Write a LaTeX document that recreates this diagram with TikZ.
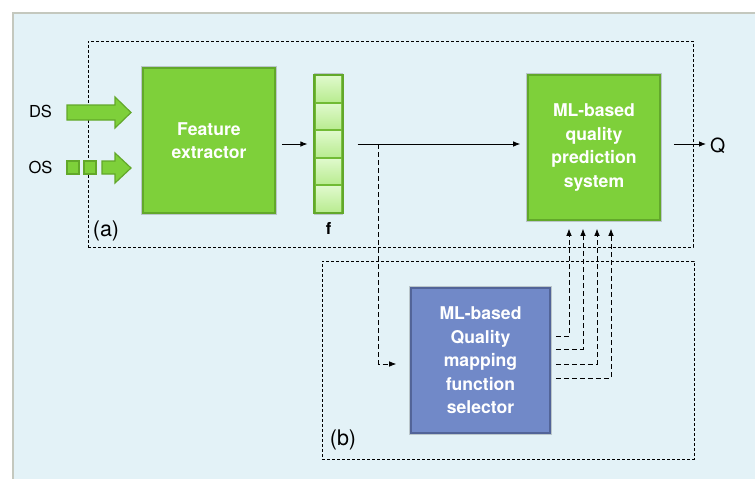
\documentclass[tikz,border=0pt]{standalone}
\usepackage{fontspec}
\setmainfont{TeX Gyre Heros}
\usetikzlibrary{arrows.meta,shadows,positioning}
\definecolor{qpanel}{RGB}{227,242,247}
\definecolor{qpanelrim}{RGB}{196,200,190}
\definecolor{qgreen}{RGB}{126,208,58}
\definecolor{qgreendark}{RGB}{98,168,42}
\definecolor{qcelltop}{RGB}{222,249,202}
\definecolor{qcellbot}{RGB}{186,236,146}
\definecolor{qblue}{RGB}{113,137,200}
\definecolor{qbluedark}{RGB}{82,100,152}
\tikzstyle{glow} = [drop shadow={shadow xshift=0pt, shadow yshift=0pt, shadow scale=1.025, opacity=0.18, fill=black}]
\tikzstyle{block} = [rectangle, minimum width=132pt, minimum height=145pt, inner sep=0pt, align=center, text=white, font=\bfseries\fontsize{17.6}{23.5}\selectfont, draw=qgreendark, fill=qgreen, line width=1.6pt, glow]
\tikzstyle{selector} = [block, minimum width=139pt, draw=qbluedark, fill=qblue]
\tikzstyle{vecbox} = [rectangle, minimum width=29pt, minimum height=138pt, inner sep=0pt, draw=qgreendark, fill=qgreen!90!black, line width=1.2pt, glow]
\tikzstyle{cell} = [rectangle, minimum width=25pt, minimum height=24.5pt, inner sep=0pt, top color=qcelltop, bottom color=qcellbot]
\tikzstyle{fat} = [draw=qgreendark, fill=qgreen, line width=1.2pt, line join=miter]
\tikzstyle{group} = [rectangle, draw=black, line width=0.7pt, dash pattern=on 3pt off 2pt]
\tikzstyle{arrow} = [line width=0.8pt, -{Latex[length=7pt,width=5.5pt]}]
\tikzstyle{dasharrow} = [arrow, line width=0.7pt, dash pattern=on 5pt off 3pt]
\tikzstyle{lbl} = [inner sep=0pt, font=\fontsize{16.5}{19}\selectfont]
\begin{document}
\begin{tikzpicture}[x=1pt,y=-1pt]
\useasboundingbox (0,0) rectangle (755,479);
% Background panel
\fill[white] (0,0) rectangle (755,479);
\draw[fill=qpanel, draw=qpanelrim, line width=2pt] (13,13) rectangle (780,500);

% Group frames
\node (boxa) [group, minimum width=605pt, minimum height=206pt] at (390.5,144) {};
\node (boxb) [group, minimum width=372pt, minimum height=198pt] at (508,360) {};
\node [anchor=center, font=\fontsize{21.5}{24}\selectfont] at (106,231) {(a)};
\node [anchor=center, font=\fontsize{21.5}{24}\selectfont] at (343,440) {(b)};

% Inputs
\node (ds) [lbl] at (40.5,111.5) {DS};
\node (os) [lbl] at (40.5,167) {OS};
\draw[fat] (67,105) -- (115,105) -- (115,97) -- (131,112.5) -- (115,128) -- (115,120) -- (67,120) -- cycle;
\node (os1) [rectangle, draw=qgreendark, fill=qgreen, line width=1.2pt, minimum width=12pt, minimum height=13pt, inner sep=0pt] at (73,167.5) {};
\node (os2) [rectangle, draw=qgreendark, fill=qgreen, line width=1.2pt, minimum width=12pt, minimum height=13pt, inner sep=0pt] at (90,167.5) {};
\draw[fat] (102,161) -- (115,161) -- (115,153) -- (131,168) -- (115,183) -- (115,174) -- (102,174) -- cycle;

% Pipeline nodes
\node (fe) [block] at (209,140.5) {Feature\\extractor};
\node (fvec) [vecbox] at (328.5,144) {};
\foreach \i in {1,...,5}
  \node (cell\i) [cell] at (328.5,{75+(\i-0.5)*27.6}) {};
\node (flbl) [below=9pt of fvec, inner sep=0pt, font=\bfseries\fontsize{16.5}{18}\selectfont] {f};
\node (ml) [block] at (594,147.5) {ML-based\\quality\\prediction\\system};
\node (sel) [selector] at (480.5,360.5) {ML-based\\Quality\\mapping\\function\\selector};
\node (q) [inner sep=0pt, anchor=west, font=\fontsize{19.5}{22}\selectfont] at (710,146) {Q};
\coordinate [right=35pt of fvec.east] (split);

% Arrows
\draw[arrow, shorten <=6pt, shorten >=6pt] (fe.east |- fvec) -- (fvec.west);
\draw[line width=0.8pt, shorten <=14pt] (fvec.east) -- (split);
\draw[arrow, shorten >=7pt] (split) -- (ml.west |- fvec);
\draw[arrow, shorten <=13pt, shorten >=4pt] (ml.east |- fvec) -- (q.west |- fvec);
\draw[dasharrow, shorten >=14pt] (split) |- ([yshift=-3.5pt]sel.west);
\foreach \dy/\dx in {24.5/-25, 11.5/-11, -3.5/3, -17.5/17}
  \draw[dasharrow, shorten <=5pt, shorten >=8pt] ([yshift=\dy pt]sel.east) -| ([xshift=\dx pt]ml.south);
\end{tikzpicture}
\end{document}
